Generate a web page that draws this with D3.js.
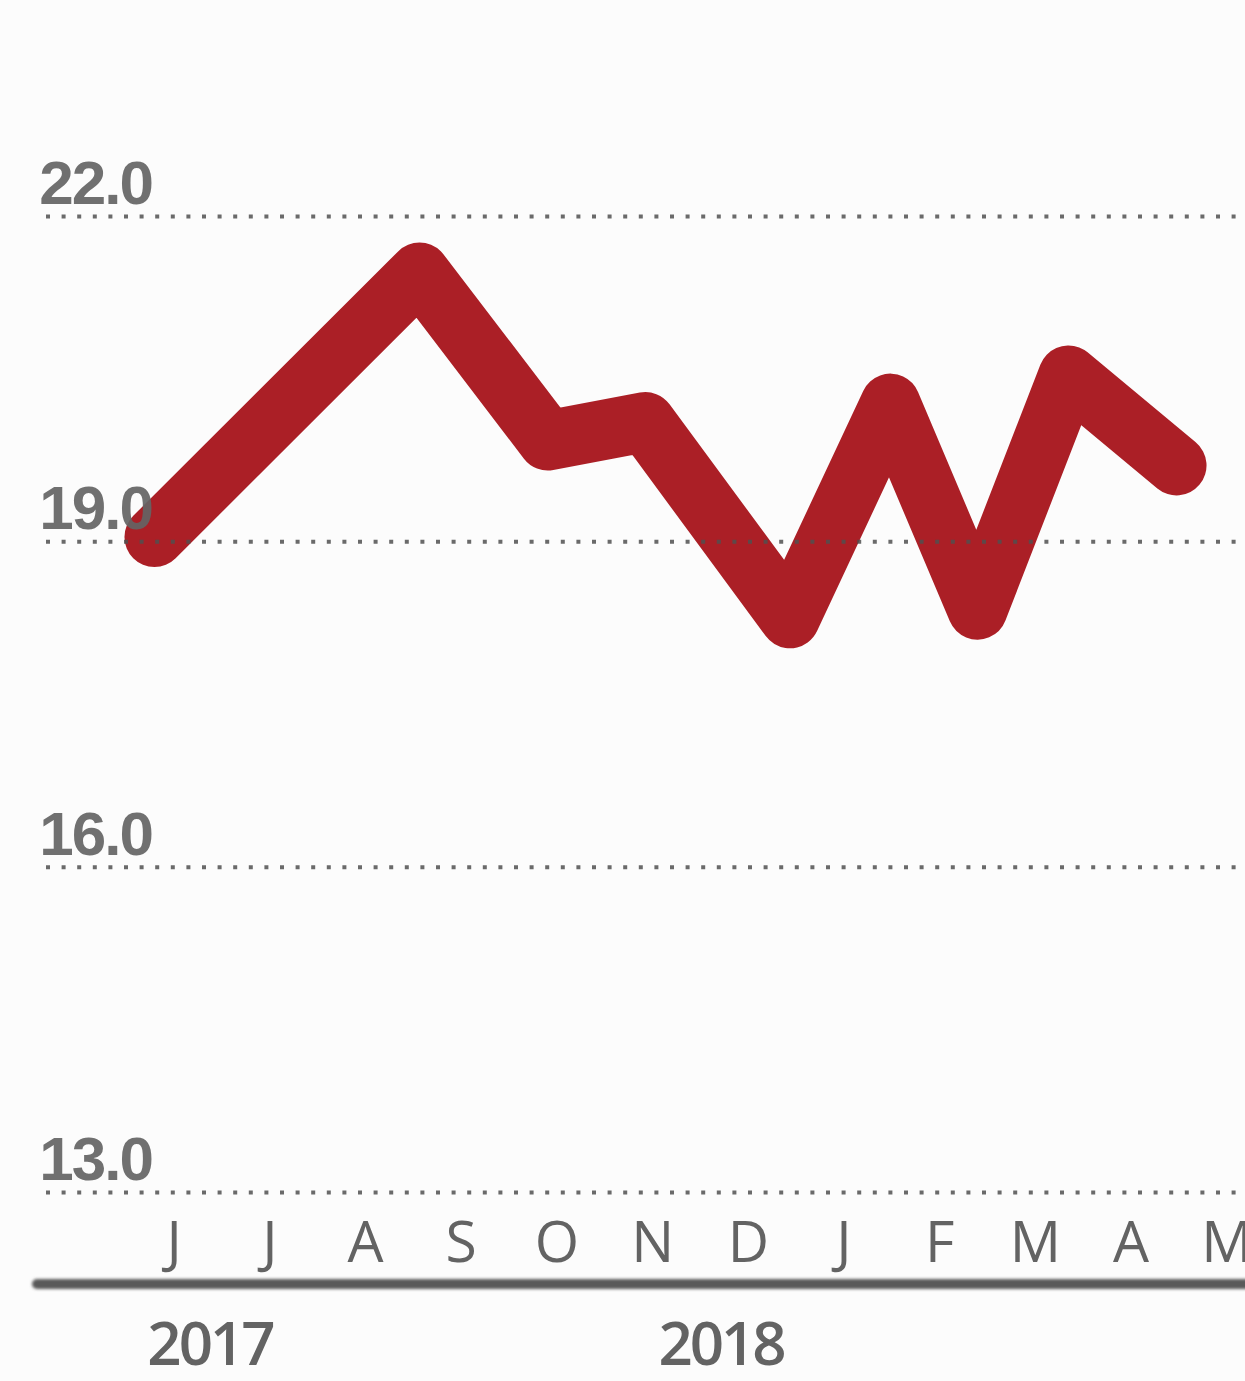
<!DOCTYPE html>
<html>
<head>
<meta charset="utf-8">
<script src="https://cdn.jsdelivr.net/npm/d3@7"></script>
<style>
  html, body { margin: 0; padding: 0; background: #fcfcfc; }
  svg { display: block; }
</style>
</head>
<body>
<svg id="chart" width="1245" height="1381"></svg>
<script>
// ---- data ----
const monthLabels = ["J","J","A","S","O","N","D","J","F","M","A","M"];
const pointPos    = [-0.20, 2.57, 3.91, 4.93, 6.44, 7.49, 8.40, 9.35, 10.48]; // position in month units
const values      = [19.04, 21.48, 19.93, 20.10, 18.29, 20.27, 18.37, 20.53, 19.70];
const yTicks      = [13, 16, 19, 22];
const yearLabels  = ["2017", "2018"];
const yearPos     = [0.38, 5.72];

const svg = d3.select("#chart");
const W = 1245, H = 1381;

svg.append("rect").attr("width", W).attr("height", H).attr("fill", "#fcfcfc");

const x = d3.scaleLinear().domain([0, 11]).range([173.6, 1226.3]);
const y = d3.scaleLinear().domain([13, 22]).range([1192, 216]);

const defs = svg.append("defs");
defs.append("filter").attr("id", "blur")
  .attr("filterUnits", "userSpaceOnUse")
  .attr("x", 0).attr("y", 1250).attr("width", W).attr("height", 70)
  .append("feGaussianBlur").attr("stdDeviation", 1.8);

// ---- line ----
const pts = pointPos.map((p, i) => ({ p, v: values[i] }));
const line = d3.line().x(d => x(d.p)).y(d => y(d.v));
svg.append("path")
  .datum(pts)
  .attr("d", line)
  .attr("fill", "none")
  .attr("stroke", "#ab1f26")
  .attr("stroke-width", 60)
  .attr("stroke-linejoin", "round")
  .attr("stroke-linecap", "round");

// ---- y gridlines + labels (drawn over the line) ----
const yAxis = d3.axisLeft(y).tickValues(yTicks).tickFormat(d3.format(".1f"))
  .tickSize(-(W - 46)).tickPadding(0);
const gy = svg.append("g").attr("transform", "translate(46,0)").call(yAxis);
gy.select(".domain").remove();
gy.selectAll(".tick line")
  .attr("stroke", "#505050")
  .attr("stroke-opacity", 0.85)
  .attr("stroke-width", 4)
  .attr("stroke-dasharray", "4 11.6");
gy.selectAll(".tick text")
  .attr("x", 106)
  .attr("dy", "-0.2em")
  .attr("text-anchor", "end")
  .attr("fill", "#646464")
  .attr("fill-opacity", 0.92)
  .style("font-family", "'Liberation Sans', Arial, sans-serif")
  .style("font-size", "62px")
  .style("font-weight", 700)
  .style("letter-spacing", "-2px");

// ---- x month labels ----
const xAxis = d3.axisBottom(x).tickValues(d3.range(monthLabels.length))
  .tickFormat((d, i) => monthLabels[i]).tickSize(0).tickPadding(0);
const gx = svg.append("g").attr("transform", "translate(0,1262)").call(xAxis);
gx.select(".domain").remove();
gx.selectAll(".tick text")
  .attr("y", 0)
  .attr("dy", 0)
  .attr("fill", "#636363")
  .style("font-family", "'Open Sans', sans-serif")
  .style("font-size", "57px")
  .style("font-weight", 500);

// ---- baseline axis rule ----
svg.append("rect")
  .attr("x", 32).attr("width", W)
  .attr("y", 1279).attr("height", 10)
  .attr("rx", 5)
  .attr("fill", "#5a5a5a")
  .attr("filter", "url(#blur)");

// ---- year labels ----
svg.append("g").selectAll("text")
  .data(yearLabels)
  .join("text")
  .attr("x", (d, i) => x(yearPos[i]))
  .attr("y", 1365)
  .attr("text-anchor", "middle")
  .attr("fill", "#636363")
  .style("font-family", "'Open Sans', sans-serif")
  .style("font-size", "60px")
  .style("font-weight", 600)
  .style("letter-spacing", "-3px")
  .text(d => d);
</script>
</body>
</html>
